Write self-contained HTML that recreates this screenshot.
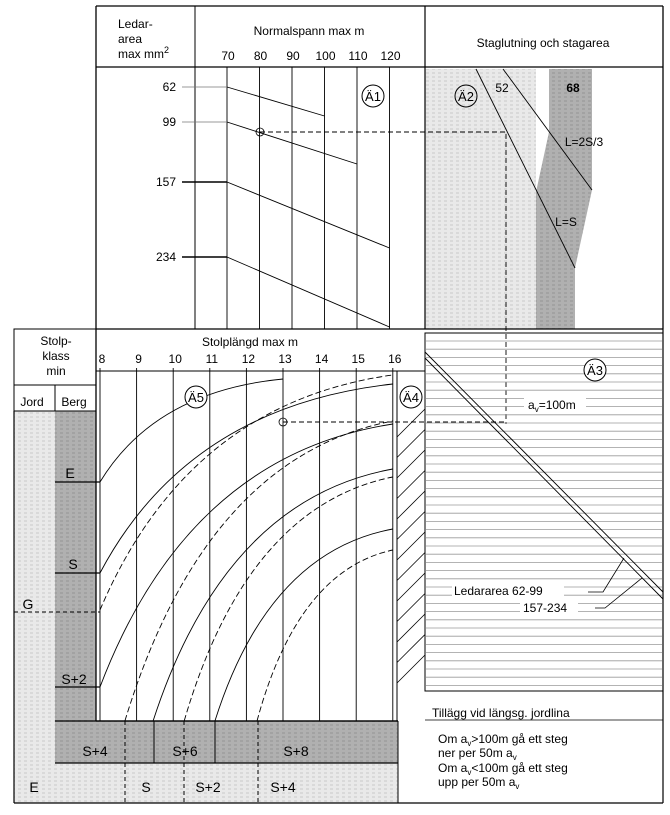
<!DOCTYPE html>
<html><head><meta charset="utf-8"><style>
html,body{margin:0;padding:0;background:#fff}
svg{display:block;font-family:"Liberation Sans","DejaVu Sans",sans-serif}
</style></head><body>
<svg id="nomo" width="670" height="815" viewBox="0 0 670 815" xmlns="http://www.w3.org/2000/svg">
<defs>
<pattern id="lightPat" width="6" height="4" patternUnits="userSpaceOnUse"><rect width="6" height="4" fill="#e9e9e9"/><rect x="0" y="0" width="3" height="2" fill="#d9d9d9"/></pattern>
<pattern id="darkPat" width="6" height="4" patternUnits="userSpaceOnUse"><rect width="6" height="4" fill="#b0b0b0"/><rect x="0" y="0" width="3" height="2" fill="#a2a2a2"/></pattern>
</defs>

<g>
<rect x="425" y="69" width="111" height="260" fill="url(#lightPat)"/>
<polygon points="549,69 592,69 592,190 575,268 575,329 536,329 536,192 549,132" fill="url(#darkPat)"/>
<line x1="96" y1="6" x2="663" y2="6" stroke="#000" stroke-width="1.3"/>
<line x1="96" y1="6" x2="96" y2="329" stroke="#000" stroke-width="1.3"/>
<line x1="663" y1="6" x2="663" y2="329" stroke="#000" stroke-width="1.3"/>
<line x1="96" y1="67" x2="663" y2="67" stroke="#000" stroke-width="1.2"/>
<line x1="195" y1="6" x2="195" y2="329" stroke="#000" stroke-width="1"/>
<line x1="425" y1="6" x2="425" y2="329" stroke="#000" stroke-width="1.2"/>
<line x1="96" y1="329" x2="663" y2="329" stroke="#000" stroke-width="1.3"/>
<text x="118" y="28" font-size="12">Ledar-</text>
<text x="118" y="43" font-size="12">area</text>
<text x="118" y="58" font-size="12">max mm<tspan font-size="9" dy="-5">2</tspan></text>
<text x="309" y="35" font-size="12" text-anchor="middle">Normalspann max m</text>
<text x="543" y="47" font-size="12" text-anchor="middle">Staglutning och stagarea</text>
<g id="topAxis"></g>
<g id="topLines"></g>
<circle cx="373" cy="96" r="11" fill="#fff" stroke="#000"/>
<text x="373" y="101" font-size="13" text-anchor="middle">Ä1</text>
<circle cx="466" cy="96" r="11" fill="none" stroke="#000"/>
<text x="466" y="101" font-size="13" text-anchor="middle">Ä2</text>
<line x1="476" y1="69" x2="575" y2="268" stroke="#000" stroke-width="0.9"/>
<line x1="503" y1="69" x2="592" y2="190" stroke="#000" stroke-width="0.9"/>
<text x="502" y="92" font-size="12" text-anchor="middle">52</text>
<text x="573" y="92" font-size="12" font-weight="bold" text-anchor="middle">68</text>
<text x="584" y="146" font-size="12" text-anchor="middle">L=2S/3</text>
<text x="566" y="226" font-size="12" text-anchor="middle">L=S</text>
<circle cx="260" cy="132" r="4" fill="none" stroke="#000" stroke-width="0.8"/>
<path d="M260,132 H506 V424" fill="none" stroke="#000" stroke-width="0.9" stroke-dasharray="5,3"/>
</g>

<g>
<rect x="14" y="411" width="41" height="392" fill="url(#lightPat)"/>
<rect x="55" y="411" width="41" height="352" fill="url(#darkPat)"/>
<rect x="55" y="721" width="343" height="42" fill="url(#darkPat)"/>
<rect x="14" y="763" width="384" height="40" fill="url(#lightPat)"/>
<rect x="14" y="329" width="82" height="82" fill="#fff" stroke="#000" stroke-width="1"/>
<line x1="14" y1="385" x2="96" y2="385" stroke="#000"/>
<line x1="55" y1="385" x2="55" y2="411" stroke="#000"/>
<text x="56" y="345" font-size="12" text-anchor="middle">Stolp-</text>
<text x="56" y="360" font-size="12" text-anchor="middle">klass</text>
<text x="56" y="375" font-size="12" text-anchor="middle">min</text>
<text x="32" y="406" font-size="12" text-anchor="middle">Jord</text>
<text x="74" y="406" font-size="12" text-anchor="middle">Berg</text>
<line x1="14" y1="411" x2="14" y2="803" stroke="#000" stroke-width="1.2"/>
<line x1="14" y1="803" x2="663" y2="803" stroke="#000" stroke-width="1.2"/>
<line x1="55" y1="721" x2="398" y2="721" stroke="#000" stroke-width="1.2"/>
<line x1="55" y1="763" x2="398" y2="763" stroke="#000" stroke-width="1.2"/>
<line x1="398" y1="721" x2="398" y2="803" stroke="#000"/>
<line x1="55" y1="482" x2="100" y2="482" stroke="#000" stroke-width="1.2"/>
<line x1="55" y1="573" x2="100" y2="573" stroke="#000" stroke-width="1.2"/>
<line x1="55" y1="687" x2="100" y2="687" stroke="#000" stroke-width="1.2"/>
<line x1="14" y1="612" x2="100" y2="612" stroke="#000" stroke-dasharray="4,3"/>
<text x="70" y="478" font-size="14" text-anchor="middle">E</text>
<text x="73" y="569" font-size="14" text-anchor="middle">S</text>
<text x="28" y="609" font-size="14" text-anchor="middle">G</text>
<text x="74" y="684" font-size="14" text-anchor="middle">S+2</text>
<text x="95" y="756" font-size="14" text-anchor="middle">S+4</text>
<text x="185" y="756" font-size="14" text-anchor="middle">S+6</text>
<text x="296" y="756" font-size="14" text-anchor="middle">S+8</text>
<text x="34" y="792" font-size="14" text-anchor="middle">E</text>
<text x="146" y="792" font-size="14" text-anchor="middle">S</text>
<text x="208" y="792" font-size="14" text-anchor="middle">S+2</text>
<text x="283" y="792" font-size="14" text-anchor="middle">S+4</text>
<line x1="125" y1="721" x2="125" y2="803" stroke="#000" stroke-dasharray="4,3"/>
<line x1="154" y1="721" x2="154" y2="763" stroke="#000"/>
<line x1="184" y1="721" x2="184" y2="803" stroke="#000" stroke-dasharray="4,3"/>
<line x1="215" y1="721" x2="215" y2="763" stroke="#000"/>
<line x1="258" y1="721" x2="258" y2="803" stroke="#000" stroke-dasharray="4,3"/>

<line x1="96" y1="329" x2="96" y2="721" stroke="#000" stroke-width="1.3"/>
<line x1="96" y1="721" x2="398" y2="721" stroke="#000" stroke-width="1.3"/>
<line x1="96" y1="371" x2="425" y2="371" stroke="#000" stroke-width="1"/>
<line x1="397" y1="371" x2="397" y2="721" stroke="#000" stroke-width="1"/>
<text x="250" y="346" font-size="12" text-anchor="middle">Stolplängd max m</text>
<g id="botAxis"></g>
<g id="hatch"></g>
<g id="curves"></g>
<circle cx="196" cy="397" r="11" fill="#fff" stroke="#000"/>
<text x="196" y="402" font-size="13" text-anchor="middle">Ä5</text>
<circle cx="411" cy="397" r="11" fill="#fff" stroke="#000"/>
<text x="411" y="402" font-size="13" text-anchor="middle">Ä4</text>
<circle cx="283" cy="422" r="4" fill="none" stroke="#000" stroke-width="0.8"/>
<line x1="283" y1="422" x2="506" y2="422" stroke="#000" stroke-width="0.9" stroke-dasharray="5,3"/>

<rect x="425" y="333" width="238" height="358" fill="none" stroke="#000" stroke-width="1"/>
<g id="a3lines"></g>
<line x1="425" y1="352" x2="663" y2="592" stroke="#000" stroke-width="0.9"/>
<line x1="425" y1="358" x2="663" y2="599" stroke="#000" stroke-width="0.9"/>
<circle cx="595" cy="370" r="11" fill="#fff" stroke="#000"/>
<text x="595" y="375" font-size="13" text-anchor="middle">Ä3</text>
<rect x="524" y="397" width="62" height="14" fill="#fff"/>
<text x="528" y="409" font-size="12">a<tspan font-size="8" dy="3">v</tspan><tspan dy="-3">=100m</tspan></text>
<rect x="452" y="583" width="112" height="14" fill="#fff"/>
<text x="454" y="595" font-size="12">Ledararea 62-99</text>
<rect x="520" y="600" width="58" height="14" fill="#fff"/>
<text x="523" y="612" font-size="12">157-234</text>
<polyline points="588,592 603,592 624,558" fill="none" stroke="#000" stroke-width="0.8"/>
<polyline points="595,608 605,608 642,578" fill="none" stroke="#000" stroke-width="0.8"/>
<line x1="425" y1="720" x2="663" y2="720" stroke="#000" stroke-width="0.8"/>
<line x1="663" y1="329" x2="663" y2="803" stroke="#000" stroke-width="1.2"/>
<text x="432" y="717" font-size="12">Tillägg vid längsg. jordlina</text>
<text x="438" y="743" font-size="12">Om a<tspan font-size="8" dy="3">v</tspan><tspan dy="-3">&gt;100m gå ett steg</tspan></text>
<text x="438" y="757" font-size="12">ner per 50m a<tspan font-size="8" dy="3">v</tspan></text>
<text x="438" y="772" font-size="12">Om a<tspan font-size="8" dy="3">v</tspan><tspan dy="-3">&lt;100m gå ett steg</tspan></text>
<text x="438" y="786" font-size="12">upp per 50m a<tspan font-size="8" dy="3">v</tspan></text>
</g>
</svg>
<script>
const areaLabels = [62, 99, 157, 234];
const areaY = [87, 122, 182, 257];
const spanTicks = [70, 80, 90, 100, 110, 120];
const lineEndSpan = [100, 110, 120, 120];
const lineEndY = [116, 164, 248, 327];
const lengthTicks = [8, 9, 10, 11, 12, 13, 14, 15, 16];
const curveStartLen = [8, 8, 8, 8, 8.68, 9.45, 10.3, 11.14, 12.29];
const curveStartY = [482, 573, 610, 687, 721, 721, 721, 721, 721];
const curveEndLen = [13, 16, 16, 16, 16, 16, 16, 16, 16];
const curveEndY = [379, 384, 375, 424, 421, 469, 477, 529, 550];
const curveDashed = [0, 0, 1, 0, 1, 0, 1, 0, 1];

const NS = 'http://www.w3.org/2000/svg';
function sx(v){ return 227 + (v - 70) * 3.25; }
function lx(v){ return 100 + (v - 8) * 36.6; }
function mk(tag, attrs, parent){
  const e = document.createElementNS(NS, tag);
  for (const k in attrs) e.setAttribute(k, attrs[k]);
  parent.appendChild(e); return e;
}
const topAxis = document.getElementById('topAxis');
spanTicks.forEach(v => {
  const t = mk('text', {x: sx(v)+1, y: 60, 'font-size': 12, 'text-anchor': 'middle'}, topAxis);
  t.textContent = v;
  
  
  const l = mk('line', {x1: sx(v), y1: 67, x2: sx(v), y2: 329, stroke: '#000', 'stroke-width': 0.9}, topAxis);
  
  
});
const topLines = document.getElementById('topLines');
areaLabels.forEach((a, i) => {
  const t = mk('text', {x: 176, y: areaY[i] + 4, 'font-size': 12, 'text-anchor': 'end'}, topLines);
  t.textContent = a;
  
  
  mk('line', {x1: 182, y1: areaY[i], x2: sx(70), y2: areaY[i], stroke: i < 2 ? '#777' : '#000', 'stroke-width': i < 2 ? 0.8 : 1.4}, topLines);
  const l = mk('line', {x1: sx(70), y1: areaY[i], x2: sx(lineEndSpan[i]), y2: lineEndY[i], stroke: '#000', 'stroke-width': 0.9}, topLines);
  
  
});
const botAxis = document.getElementById('botAxis');
lengthTicks.forEach(v => {
  const t = mk('text', {x: lx(v)+2, y: 363, 'font-size': 12, 'text-anchor': 'middle'}, botAxis);
  t.textContent = v;
  
  
  const l = mk('line', {x1: lx(v), y1: 368, x2: lx(v), y2: 721, stroke: '#000', 'stroke-width': 0.9}, botAxis);
  
  
});
const hatch = document.getElementById('hatch');
for (let y = 437; y <= 685; y += 20.5) {
  mk('line', {x1: 397, y1: y, x2: 425, y2: y - 28, stroke: '#000', 'stroke-width': 0.8}, hatch);
}
const a3 = document.getElementById('a3lines');
for (let y = 341; y < 690; y += 8.2) {
  mk('line', {x1: 426, y1: y, x2: 662, y2: y, stroke: '#9a9a9a', 'stroke-width': 0.8}, a3);
}
const curves = document.getElementById('curves');
curveStartLen.forEach((s, i) => {
  const x0 = lx(s), y0 = curveStartY[i], x1 = lx(curveEndLen[i]), y1 = curveEndY[i];
  const cx = x0 + (x1 - x0) * 0.3, cy = y1 + (y0 - y1) * 0.12;
  const p = mk('path', {d: `M${x0},${y0} Q${cx},${cy} ${x1},${y1}`, fill: 'none', stroke: '#000', 'stroke-width': 0.9}, curves);
  if (curveDashed[i]) p.setAttribute('stroke-dasharray', '6,3');
  
  
});
</script>
</body></html>
